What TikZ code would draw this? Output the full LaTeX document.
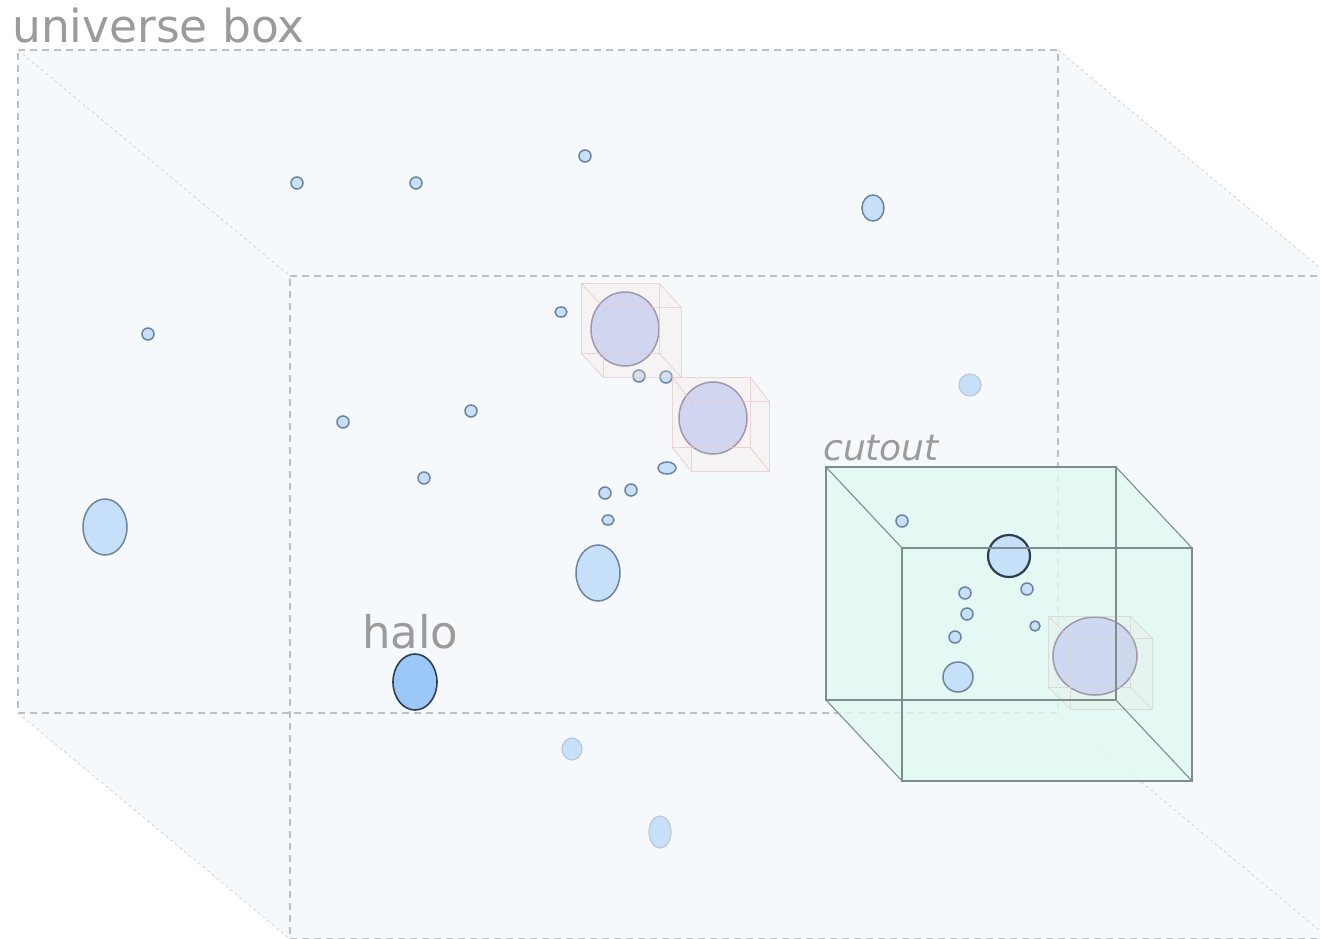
\documentclass[tikz,border=0pt]{standalone}
\usepackage{fontspec}
\setmainfont{DejaVu Sans}
\definecolor{unifill}{RGB}{245,249,252}
\definecolor{uniline}{RGB}{190,193,196}
\definecolor{halofill}{RGB}{198,224,250}
\definecolor{haloline}{RGB}{110,132,154}
\definecolor{darkfill}{RGB}{156,200,248}
\definecolor{darkline}{RGB}{45,62,80}
\definecolor{inboxfill}{RGB}{196,210,245}
\definecolor{inboxline}{RGB}{135,125,150}
\definecolor{pinkfill}{RGB}{250,228,226}
\definecolor{pinkline}{RGB}{232,200,200}
\definecolor{greyfill}{RGB}{236,236,230}
\definecolor{greyline}{RGB}{212,212,205}
\definecolor{cutfill}{RGB}{224,248,243}
\definecolor{cutline}{RGB}{125,140,140}
\definecolor{labelgray}{RGB}{155,155,155}

\tikzset{
  uniedge/.style={draw=uniline, line width=1.1pt, dash pattern=on 7pt off 5pt},
  unidiag/.style={draw=uniline!70, line width=0.8pt, dash pattern=on 3pt off 3pt},
  halo/.style={draw=haloline, fill=halofill, line width=1.5pt},
  farhalo/.style={draw=haloline!45, fill=halofill, line width=1.2pt},
  mainhalo/.style={draw=darkline, fill=darkfill, line width=1.6pt},
  boxedhalo/.style={draw=inboxline, fill=inboxfill, line width=1.5pt},
  cutedge/.style={draw=cutline, line width=1.1pt},
  tag/.style={text=labelgray, inner sep=0pt, anchor=base west}
}

% small cube: back corner (x,y), size (w,h), shift (dx,dy), colour prefix
\newcommand{\smallcube}[7]{%
  \fill[#7fill, fill opacity=0.25] (#1,#2) -- (#1+#3,#2) -- (#1+#3+#5,#2+#6) -- (#1+#3+#5,#2+#4+#6)
    -- (#1+#5,#2+#4+#6) -- (#1,#2+#4) -- cycle;
  \draw[#7line, line width=1pt, opacity=0.7] (#1,#2) rectangle ++(#3,#4);
  \draw[#7line, line width=1pt, opacity=0.7] (#1+#5,#2+#6) rectangle ++(#3,#4);
  \draw[#7line, line width=1pt, opacity=0.7] (#1,#2) -- ++(#5,#6) (#1+#3,#2) -- ++(#5,#6)
    (#1+#3,#2+#4) -- ++(#5,#6) (#1,#2+#4) -- ++(#5,#6);
}

\begin{document}
\begin{tikzpicture}[x=1pt, y=-1pt]

\useasboundingbox (0,0) rectangle (1320,938);

% universe box corners
\coordinate (ub1) at (18,50);
\coordinate (ub2) at (1058,50);
\coordinate (ub3) at (1058,713);
\coordinate (ub4) at (18,713);
\coordinate (uf1) at (290,276);
\coordinate (uf2) at (1330,276);
\coordinate (uf3) at (1330,939);
\coordinate (uf4) at (290,939);

\fill[unifill] (ub1) -- (ub2) -- (uf2) -- (uf3) -- (uf4) -- (ub4) -- cycle;
\draw[uniedge] (ub1) -- (ub2) -- (ub3) -- (ub4) -- cycle;
\draw[uniedge] (uf1) -- (uf2) -- (uf3) -- (uf4) -- cycle;
\draw[unidiag] (ub1) -- (uf1);
\draw[unidiag] (ub2) -- (uf2);
\draw[unidiag] (ub3) -- (uf3);
\draw[unidiag] (ub4) -- (uf4);

\node[tag, font=\fontsize{45.5}{52}\selectfont] (unilabel) at (12,42) {universe box};

% cutout region
\coordinate (cb1) at (826,467);
\coordinate (cb2) at (1116,467);
\coordinate (cb3) at (1116,700);
\coordinate (cb4) at (826,700);
\coordinate (cf1) at (902,548);
\coordinate (cf2) at (1192,548);
\coordinate (cf3) at (1192,781);
\coordinate (cf4) at (902,781);
\fill[cutfill, fill opacity=0.8] (cb1) -- (cb2) -- (cf2) -- (cf3) -- (cf4) -- (cb4) -- cycle;

% halos
\foreach \hx/\hy in {297/183, 416/183, 585/156, 148/334, 343/422, 471/411, 424/478,
  639/376, 666/377, 605/493, 631/490, 902/521, 1027/589, 965/593, 967/614, 955/637}
  \draw[halo] (\hx,\hy) circle (6);
\draw[halo] (561,312) ellipse (6 and 5);
\draw[halo] (667,468) ellipse (9 and 6);
\draw[halo] (608,520) ellipse (6 and 5);
\draw[halo] (1035,626) circle (5);
\draw[halo] (873,208) ellipse (11 and 13);
\draw[halo] (105,527) ellipse (22 and 28);
\draw[halo] (598,573) ellipse (22 and 28);
\draw[halo] (958,677) circle (15);
\draw[farhalo] (970,385) circle (11);
\draw[farhalo] (572,749) ellipse (10 and 11);
\draw[farhalo] (660,832) ellipse (11 and 16);
\draw[mainhalo] (415,682) ellipse (22 and 28);
\draw[halo, draw=darkline, line width=2.2pt] (1009,556) circle (21);

\node[tag, font=\fontsize{45}{52}\selectfont] (halolabel) at (362,648) {halo};

% boxed halos
\draw[boxedhalo] (625,329) ellipse (34 and 37);
\smallcube{581}{283}{78}{70}{22}{24}{pink}
\draw[boxedhalo] (713,418) ellipse (34 and 36);
\smallcube{672}{377}{78}{70}{19}{24}{pink}
\draw[boxedhalo] (1095,656) ellipse (42 and 39);
\smallcube{1048}{616}{82}{71}{22}{22}{grey}

% cutout edges
\draw[cutedge] (cb1) -- (cb2) -- (cb3) -- (cb4) -- cycle;
\draw[cutedge] (cf1) -- (cf2) -- (cf3) -- (cf4) -- cycle;
\draw[cutedge] (cb1) -- (cf1) (cb2) -- (cf2) (cb3) -- (cf3) (cb4) -- (cf4);

\node[tag, font=\fontsize{36}{42}\selectfont\itshape] (cutlabel) at (823,460) {cutout};

\end{tikzpicture}
\end{document}
